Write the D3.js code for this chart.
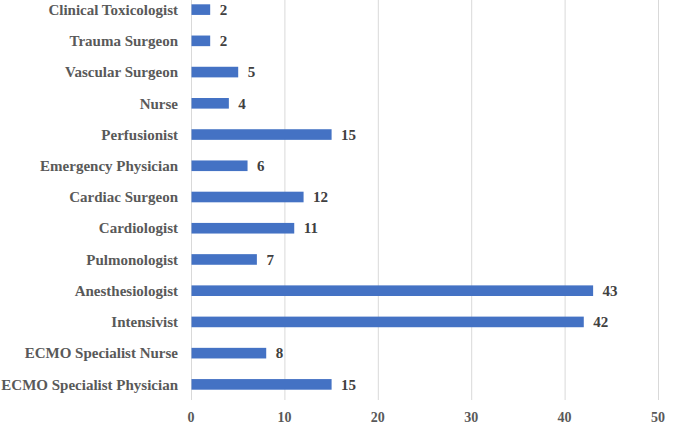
<!DOCTYPE html>
<html>
<head>
<meta charset="utf-8">
<script src="https://cdn.jsdelivr.net/npm/d3@7"></script>
<style>
  body { margin: 0; background: #fff; }
</style>
</head>
<body>
<div id="chart"></div>
<script>
// Specialties, top to bottom as shown
const categories = [
  'Clinical Toxicologist', 'Trauma Surgeon', 'Vascular Surgeon', 'Nurse', 'Perfusionist',
  'Emergency Physician', 'Cardiac Surgeon', 'Cardiologist', 'Pulmonologist',
  'Anesthesiologist', 'Intensivist', 'ECMO Specialist Nurse', 'ECMO Specialist Physician'
];
const counts = [2, 2, 5, 4, 15, 6, 12, 11, 7, 43, 42, 8, 15];
const xTicks = [0, 10, 20, 30, 40, 50];

const W = 673, H = 428;
const margin = { top: -6, right: 15, bottom: 28, left: 191 };
const font = "'Liberation Serif', 'Times New Roman', serif";

const svg = d3.select('#chart').append('svg')
  .attr('width', W)
  .attr('height', H)
  .attr('font-family', font)
  .attr('font-weight', 'bold')
  .append('g')
  .attr('transform', `translate(${margin.left},${margin.top})`);

const x = d3.scaleLinear().domain([0, 50]).range([0, 467]);
const y = d3.scaleBand().domain(categories).range([0, 406]).paddingInner(0.66).paddingOuter(0.33);

// vertical gridlines
svg.selectAll('.grid')
  .data(xTicks)
  .enter().append('line')
  .attr('x1', d => x(d) + 0.5)
  .attr('x2', d => x(d) + 0.5)
  .attr('y1', 6)
  .attr('y2', 406)
  .attr('stroke', '#d9d9d9')
  .attr('stroke-width', 1);

// x tick labels
svg.selectAll('.xtick')
  .data(xTicks)
  .enter().append('text')
  .attr('x', d => x(d))
  .attr('y', 428)
  .attr('text-anchor', 'middle')
  .attr('fill', '#595959')
  .style('font-size', '14px')
  .text(d => d);

// category labels
svg.selectAll('.cat')
  .data(categories)
  .enter().append('text')
  .attr('x', -13)
  .attr('y', d => y(d) + y.bandwidth() / 2)
  .attr('dy', '0.35em')
  .attr('text-anchor', 'end')
  .attr('fill', '#595959')
  .style('font-size', '15px')
  .text(d => d);

svg.selectAll('.bar')
  .data(categories)
  .enter().append('rect')
  .attr('x', 0.5)
  .attr('y', d => y(d))
  .attr('width', (d, i) => x(counts[i]))
  .attr('height', y.bandwidth())
  .attr('fill', '#4472c4');

svg.selectAll('.val')
  .data(categories)
  .enter().append('text')
  .attr('x', (d, i) => x(counts[i]) + 10)
  .attr('y', d => y(d) + y.bandwidth() / 2)
  .attr('dy', '0.35em')
  .attr('fill', '#404040')
  .style('font-size', '15px')
  .text((d, i) => counts[i]);
</script>
</body>
</html>
